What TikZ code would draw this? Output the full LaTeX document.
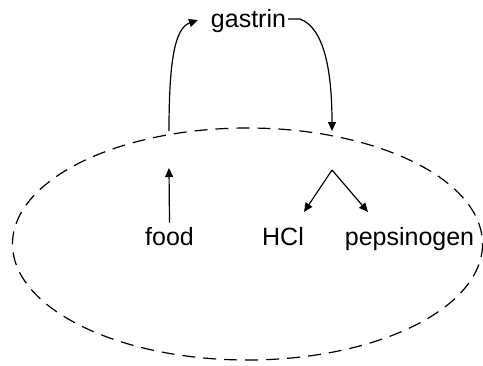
\documentclass[tikz,border=0pt]{standalone}
\usepackage{fontspec}
\setmainfont{Liberation Sans}
\usetikzlibrary{arrows.meta}
\begin{document}
\begin{tikzpicture}[x=1pt,y=-1pt,
  lbl/.style={inner sep=0pt,anchor=base,font=\fontsize{25}{28}\selectfont},
  conn/.style={line width=1.2pt,-{Triangle[length=9pt,width=8pt]}},
  blob/.style={draw,line width=1.2pt,dash pattern=on 13pt off 8pt}]
\useasboundingbox (0,0) rectangle (483,365);
\draw[blob] (247.5,244) ellipse [x radius=235,y radius=116];
\node[lbl] (gastrin) at (248.5,27) {gastrin};
\node[lbl] (food) at (169.5,245) {food};
\node[lbl] (hcl) at (283,245) {HCl};
\node[lbl] (peps) at (409.5,245) {pepsinogen};
\coordinate (lstart) at (169,131);
\coordinate (ltip) at (198,20);
\coordinate (rbend) at (300,19);
\coordinate (rtip) at (332,131);
\coordinate (foodtip) at (169,168);
\coordinate (apex) at (332,170);
\coordinate (hcltip) at (304,212);
\coordinate (pepstip) at (368,212);
\draw[conn] (lstart) .. controls (169,60) and (175,28) .. (ltip);
\draw[conn] (gastrin.east) ++(2,-1.5) -- (rbend) .. controls (324,28) and (332,70) .. (rtip);
\draw[conn] (food.north) ++(0,-4) -- (foodtip);
\draw[conn] (apex) -- (hcltip);
\draw[conn] (apex) -- (pepstip);
\end{tikzpicture}
\end{document}
